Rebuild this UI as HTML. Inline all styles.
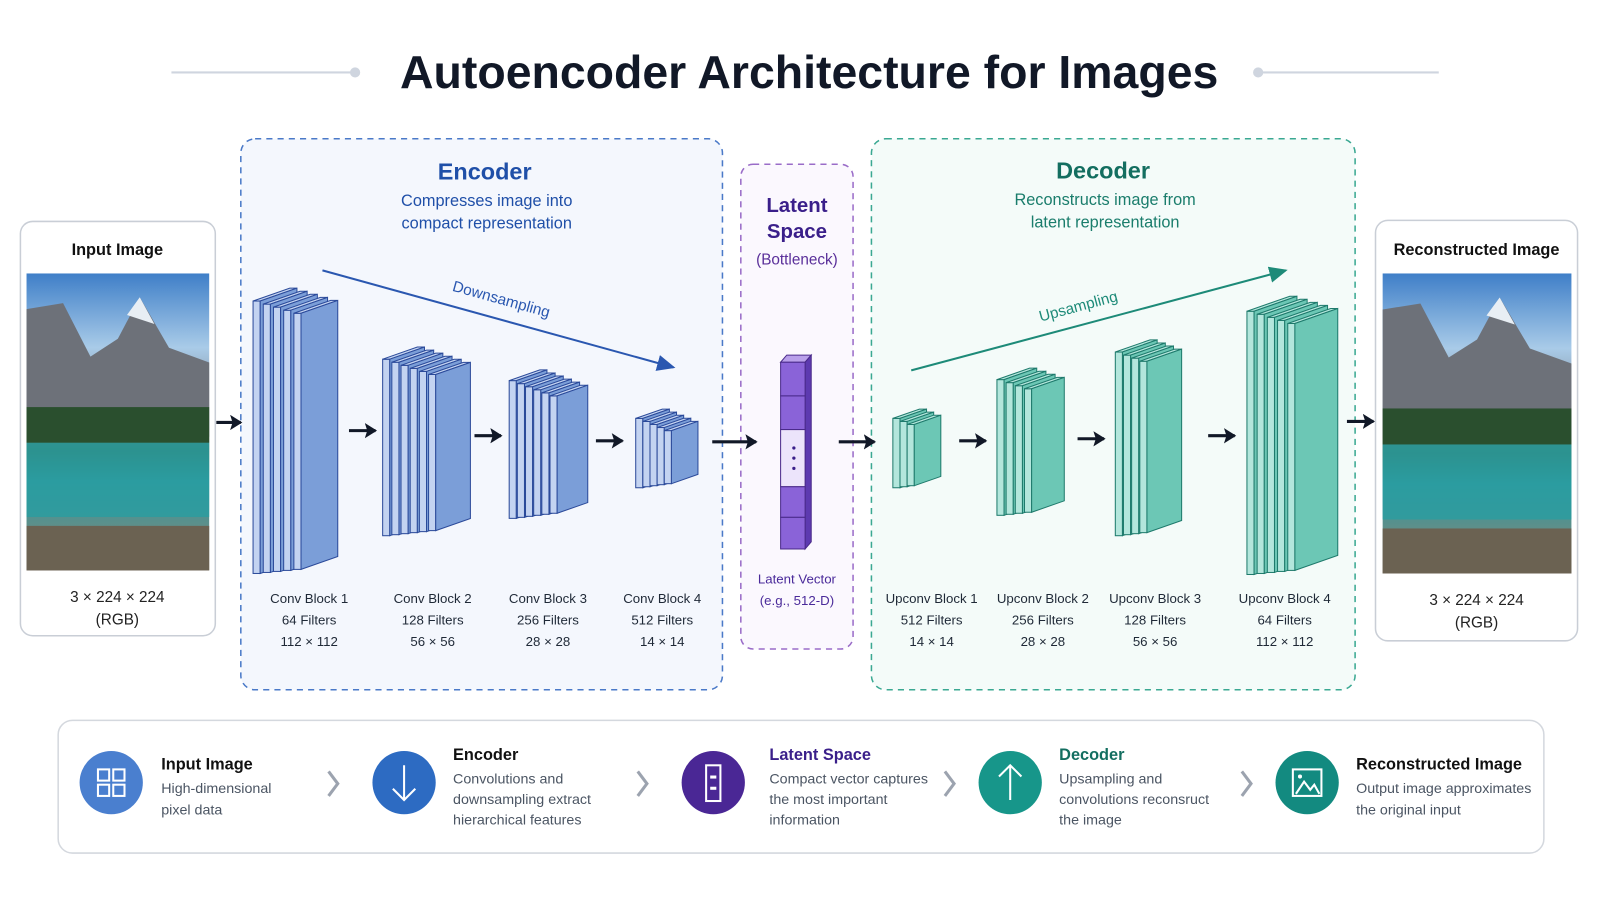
<!DOCTYPE html>
<html><head><meta charset="utf-8"><style>
html,body{margin:0;padding:0;background:#fff;width:1600px;height:900px;overflow:hidden}
svg{display:block}
text{font-family:"Liberation Sans",sans-serif}
</style></head><body>
<svg id="s" width="1600" height="900" viewBox="0 0 1568 882" preserveAspectRatio="none" xmlns="http://www.w3.org/2000/svg">
<defs>
<linearGradient id="sky" x1="0" y1="0" x2="0" y2="1">
<stop offset="0" stop-color="#3f7fc8"/><stop offset="0.25" stop-color="#a9cbe8"/><stop offset="0.45" stop-color="#7d8793"/><stop offset="0.6" stop-color="#2f5a35"/><stop offset="0.7" stop-color="#2a9aa0"/><stop offset="0.85" stop-color="#5e8f8a"/><stop offset="1" stop-color="#6b5e4d"/>
</linearGradient>
<marker id="ab" markerWidth="10" markerHeight="10" refX="8" refY="5" orient="auto"><path d="M0,1 L9,5 L0,9 z" fill="#2a57b0"/></marker>
<marker id="at" markerWidth="10" markerHeight="10" refX="8" refY="5" orient="auto"><path d="M0,1 L9,5 L0,9 z" fill="#1d8a78"/></marker>
<marker id="ak" markerWidth="5" markerHeight="5" refX="3.5" refY="2.5" orient="auto"><path d="M0,0 L4,2.5 L0,5 L0.8,2.5 z" fill="#111827"/></marker>
</defs>
<!-- title -->
<line x1="168" y1="71" x2="345" y2="71" stroke="#cfd5df" stroke-width="2"/><circle cx="348" cy="71" r="5" fill="#cfd5df"/>
<line x1="1236" y1="71" x2="1410" y2="71" stroke="#cfd5df" stroke-width="2"/><circle cx="1233" cy="71" r="5" fill="#cfd5df"/>
<text x="793" y="86" text-anchor="middle" font-size="45.5" font-weight="bold" fill="#111827">Autoencoder Architecture for Images</text>

<!-- encoder box -->
<rect x="236" y="136" width="472" height="540" rx="14" fill="#f4f7fd" stroke="#4a79c8" stroke-width="1.5" stroke-dasharray="6,5"/>
<text x="475" y="176" text-anchor="middle" font-size="23" font-weight="bold" fill="#1f4fa8">Encoder</text>
<text x="477" y="202" text-anchor="middle" font-size="16" fill="#1f4fa8">Compresses image into</text>
<text x="477" y="224" text-anchor="middle" font-size="16" fill="#1f4fa8">compact representation</text>
<line x1="316" y1="265" x2="660" y2="360" stroke="#2a57b0" stroke-width="2" marker-end="url(#ab)"/>
<text x="490" y="298" text-anchor="middle" font-size="15" fill="#2a57b0" transform="rotate(15.5 490 298)">Downsampling</text>

<!-- latent box -->
<rect x="726" y="161" width="110" height="475" rx="12" fill="#fbf8fe" stroke="#9a6cc8" stroke-width="1.5" stroke-dasharray="6,5"/>
<text x="781" y="208" text-anchor="middle" font-size="20" font-weight="bold" fill="#3a1f8a">Latent</text>
<text x="781" y="233" text-anchor="middle" font-size="20" font-weight="bold" fill="#3a1f8a">Space</text>
<text x="781" y="259" text-anchor="middle" font-size="15" fill="#5a2f9a">(Bottleneck)</text>
<text x="781" y="572" text-anchor="middle" font-size="13" fill="#4a2a9a">Latent Vector</text>
<text x="781" y="593" text-anchor="middle" font-size="13" fill="#4a2a9a">(e.g., 512-D)</text>
<g stroke="#4a2a8a" stroke-width="1">
<polygon points="765,355 771,348 795,348 789,355" fill="#b9a0ea"/>
<polygon points="789,355 795,348 795,531 789,538" fill="#5d3ab0"/>
<rect x="765" y="355" width="24" height="33" fill="#8a63d8"/>
<rect x="765" y="388" width="24" height="33" fill="#8a63d8"/>
<rect x="765" y="421" width="24" height="56" fill="#ece4fb"/>
<rect x="765" y="477" width="24" height="30" fill="#8a63d8"/>
<rect x="765" y="507" width="24" height="31" fill="#8a63d8"/>
</g>
<circle cx="778" cy="439" r="1.6" fill="#3a1f8a"/><circle cx="778" cy="449" r="1.6" fill="#3a1f8a"/><circle cx="778" cy="459" r="1.6" fill="#3a1f8a"/>

<!-- decoder box -->
<rect x="854" y="136" width="474" height="540" rx="14" fill="#f4fbf9" stroke="#3aa892" stroke-width="1.5" stroke-dasharray="6,5"/>
<text x="1081" y="175" text-anchor="middle" font-size="23" font-weight="bold" fill="#136e60">Decoder</text>
<text x="1083" y="201" text-anchor="middle" font-size="16" fill="#1a7d6c">Reconstructs image from</text>
<text x="1083" y="223" text-anchor="middle" font-size="16" fill="#1a7d6c">latent representation</text>
<line x1="893" y1="363" x2="1260" y2="265" stroke="#1d8a78" stroke-width="2" marker-end="url(#at)"/>
<text x="1058" y="305" text-anchor="middle" font-size="15" fill="#1d8a78" transform="rotate(-15 1058 305)">Upsampling</text>

<!-- input / output cards -->
<rect x="20" y="217" width="191" height="406" rx="12" fill="#fff" stroke="#c9ced6" stroke-width="1.5"/>
<text x="115" y="250" text-anchor="middle" font-size="16" font-weight="bold" fill="#111">Input Image</text>
<rect x="26" y="268" width="179" height="291" fill="url(#sky)"/>
<text x="115" y="590" text-anchor="middle" font-size="15" fill="#222">3 × 224 × 224</text>
<text x="115" y="612" text-anchor="middle" font-size="15" fill="#222">(RGB)</text>
<rect x="1348" y="216" width="198" height="412" rx="12" fill="#fff" stroke="#c9ced6" stroke-width="1.5"/>
<text x="1447" y="250" text-anchor="middle" font-size="16" font-weight="bold" fill="#111">Reconstructed Image</text>
<rect x="1355" y="268" width="185" height="294" fill="url(#sky)"/>
<text x="1447" y="593" text-anchor="middle" font-size="15" fill="#222">3 × 224 × 224</text>
<text x="1447" y="615" text-anchor="middle" font-size="15" fill="#222">(RGB)</text>
<g id="mtn"></g>

<g id="blocks"></g>

<!-- black arrows -->
<g stroke="#111827" stroke-width="3" marker-end="url(#ak)">
<line x1="212" y1="414" x2="236" y2="414"/>
<line x1="342" y1="422" x2="368" y2="422"/>
<line x1="465" y1="427" x2="491" y2="427"/>
<line x1="584" y1="432" x2="610" y2="432"/>
<line x1="698" y1="433" x2="741" y2="433"/>
<line x1="822" y1="433" x2="857" y2="433"/>
<line x1="940" y1="432" x2="966" y2="432"/>
<line x1="1056" y1="430" x2="1082" y2="430"/>
<line x1="1184" y1="427" x2="1210" y2="427"/>
<line x1="1320" y1="413" x2="1346" y2="413"/>
</g>

<!-- block labels -->
<g font-size="13" fill="#1f2937" text-anchor="middle">
<text x="303" y="591">Conv Block 1</text><text x="303" y="612">64 Filters</text><text x="303" y="633">112 × 112</text>
<text x="424" y="591">Conv Block 2</text><text x="424" y="612">128 Filters</text><text x="424" y="633">56 × 56</text>
<text x="537" y="591">Conv Block 3</text><text x="537" y="612">256 Filters</text><text x="537" y="633">28 × 28</text>
<text x="649" y="591">Conv Block 4</text><text x="649" y="612">512 Filters</text><text x="649" y="633">14 × 14</text>
<text x="913" y="591">Upconv Block 1</text><text x="913" y="612">512 Filters</text><text x="913" y="633">14 × 14</text>
<text x="1022" y="591">Upconv Block 2</text><text x="1022" y="612">256 Filters</text><text x="1022" y="633">28 × 28</text>
<text x="1132" y="591">Upconv Block 3</text><text x="1132" y="612">128 Filters</text><text x="1132" y="633">56 × 56</text>
<text x="1259" y="591">Upconv Block 4</text><text x="1259" y="612">64 Filters</text><text x="1259" y="633">112 × 112</text>
</g>

<!-- legend -->
<rect x="57" y="706" width="1456" height="130" rx="14" fill="#fff" stroke="#d4d8de" stroke-width="1.5"/>
<circle cx="109" cy="767" r="31" fill="#4a7fcf"/>
<g fill="none" stroke="#fff" stroke-width="2"><rect x="96" y="754" width="11" height="11"/><rect x="111" y="754" width="11" height="11"/><rect x="96" y="769" width="11" height="11"/><rect x="111" y="769" width="11" height="11"/></g>
<circle cx="396" cy="767" r="31" fill="#2d6bc2"/>
<path d="M396 750 V784 M385 773 L396 784 L407 773" fill="none" stroke="#fff" stroke-width="2"/>
<circle cx="699" cy="767" r="31" fill="#4a2795"/>
<rect x="692" y="750" width="14" height="35" fill="none" stroke="#fff" stroke-width="2"/><rect x="696" y="760" width="6" height="3" fill="#fff"/><rect x="696" y="771" width="6" height="3" fill="#fff"/>
<circle cx="990" cy="767" r="31" fill="#17968a"/>
<path d="M990 784 V750 M979 761 L990 750 L1001 761" fill="none" stroke="#fff" stroke-width="2"/>
<circle cx="1281" cy="767" r="31" fill="#138a80"/>
<rect x="1267" y="754" width="28" height="26" fill="none" stroke="#fff" stroke-width="2"/><path d="M1270 778 L1278 766 L1284 774 L1288 769 L1293 778" fill="none" stroke="#fff" stroke-width="2"/><circle cx="1274" cy="761" r="2" fill="#fff"/>
<g fill="none" stroke="#9ca3af" stroke-width="3"><path d="M322 756 L331 768 L322 780"/><path d="M625 756 L634 768 L625 780"/><path d="M926 756 L935 768 L926 780"/><path d="M1217 756 L1226 768 L1217 780"/></g>
<text x="158" y="754" font-size="16" font-weight="bold" fill="#111">Input Image</text>
<text x="158" y="777" font-size="14" fill="#4b5563">High-dimensional</text><text x="158" y="798" font-size="14" fill="#4b5563">pixel data</text>
<text x="444" y="745" font-size="16" font-weight="bold" fill="#111">Encoder</text>
<text x="444" y="768" font-size="14" fill="#4b5563">Convolutions and</text><text x="444" y="788" font-size="14" fill="#4b5563">downsampling extract</text><text x="444" y="808" font-size="14" fill="#4b5563">hierarchical features</text>
<text x="754" y="745" font-size="16" font-weight="bold" fill="#3a1f8a">Latent Space</text>
<text x="754" y="768" font-size="14" fill="#4b5563">Compact vector captures</text><text x="754" y="788" font-size="14" fill="#4b5563">the most important</text><text x="754" y="808" font-size="14" fill="#4b5563">information</text>
<text x="1038" y="745" font-size="16" font-weight="bold" fill="#136e60">Decoder</text>
<text x="1038" y="768" font-size="14" fill="#4b5563">Upsampling and</text><text x="1038" y="788" font-size="14" fill="#4b5563">convolutions reconsruct</text><text x="1038" y="808" font-size="14" fill="#4b5563">the image</text>
<text x="1329" y="754" font-size="16" font-weight="bold" fill="#111">Reconstructed Image</text>
<text x="1329" y="777" font-size="14" fill="#4b5563">Output image approximates</text><text x="1329" y="798" font-size="14" fill="#4b5563">the original input</text>
</svg>
<script>
var NS="http://www.w3.org/2000/svg";
function el(p,t,a){var e=document.createElementNS(NS,t);for(var k in a)e.setAttribute(k,a[k]);p.appendChild(e);return e;}
var g=document.getElementById("blocks");
function block(x0,top,bot,n,sp,fw,c){
  var edge=7, rise=fw*0.35;
  for(var i=0;i<n;i++){
    var x=x0+i*sp, yt=top+i*3, yb=bot-i*1;
    el(g,"rect",{x:x,y:yt,width:edge,height:yb-yt,fill:c[1],stroke:c[2],"stroke-width":1});
    el(g,"polygon",{points:[x,yt,x+edge,yt,x+edge+fw,yt-rise,x+fw,yt-rise].join(","),fill:c[1],stroke:c[2],"stroke-width":1});
    el(g,"polygon",{points:[x+edge,yt,x+edge+fw,yt-rise,x+edge+fw,yb-rise,x+edge,yb].join(","),fill:c[0],stroke:c[2],"stroke-width":1});
  }
}
var B=["#7b9ed8","#c3d3f1","#2b4a9a"],T=["#6cc7b5","#b3e6dc","#1e7a6c"];
block(248,295,562,5,10,36,B);
block(375,352,525,6,9,34,B);
block(499,373,508,6,8,30,B);
block(623,410,478,5,7,26,B);
block(875,410,478,3,7,26,T);
block(977,372,505,4,9,32,T);
block(1093,345,525,4,8,34,T);
block(1222,305,563,5,10,42,T);
var m=document.getElementById("mtn");
function photo(x,y,w,h){
  el(m,"polygon",{points:[x,y+h*0.12,x+w*0.2,y+h*0.1,x+w*0.35,y+h*0.28,x+w*0.5,y+h*0.22,x+w*0.62,y+h*0.08,x+w*0.78,y+h*0.25,x+w,y+h*0.3,x+w,y+h*0.55,x,y+h*0.55].join(","),fill:"#6d7179"});
  el(m,"polygon",{points:[x+w*0.55,y+h*0.14,x+w*0.62,y+h*0.08,x+w*0.7,y+h*0.17].join(","),fill:"#e8eef4"});
  el(m,"rect",{x:x,y:y+h*0.45,width:w,height:h*0.12,fill:"#2a4f2e"});
  el(m,"rect",{x:x,y:y+h*0.57,width:w,height:h*0.25,fill:"#2c9ca0",opacity:0.85});
  el(m,"rect",{x:x,y:y+h*0.85,width:w,height:h*0.15,fill:"#6b6252"});
}
photo(26,268,179,291);photo(1355,268,185,294);
</script>
</body></html>
